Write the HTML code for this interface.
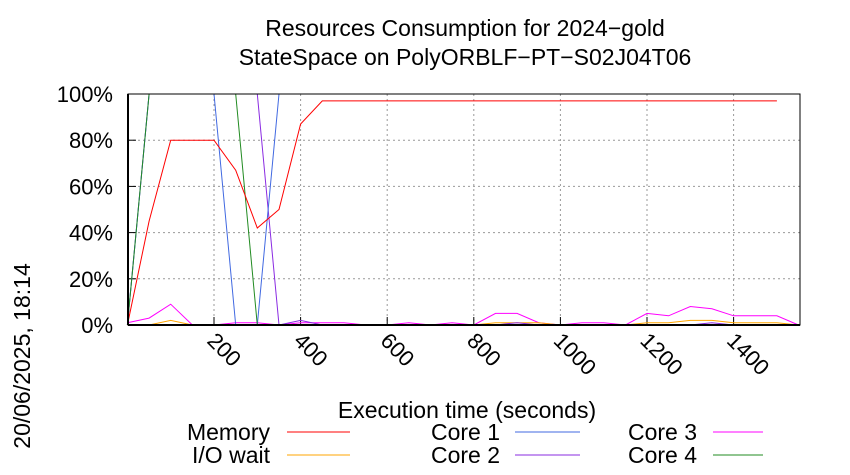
<!DOCTYPE html>
<html><head><meta charset="utf-8"><style>body{margin:0;background:#fff}svg{display:block;font-family:"Liberation Sans",sans-serif}</style></head>
<body>
<svg id="c" width="850" height="475" xmlns="http://www.w3.org/2000/svg">
<text x="465" y="36" font-size="23" text-anchor="middle">Resources Consumption for 2024−gold</text>
<text x="465" y="65" font-size="23" text-anchor="middle">StateSpace on PolyORBLF−PT−S02J04T06</text>
<text transform="translate(30,356) rotate(-90)" font-size="23" text-anchor="middle">20/06/2025, 18:14</text>
<text x="467" y="418" font-size="23" text-anchor="middle">Execution time (seconds)</text>
<g id="grid"></g><g id="series"></g>
<rect x="128" y="94" width="672" height="231" fill="none" stroke="#000" stroke-width="1"/>
<line x1="128" y1="94" x2="128" y2="325" stroke="#000" stroke-width="2"/>
<line x1="128" y1="325" x2="800" y2="325" stroke="#000" stroke-width="2"/>
<g id="legend" font-size="23"></g>
</svg>
<script>
const times=[0,50,100,150,200,250,300,350,400,450,500,550,600,650,700,750,800,850,900,950,1000,1050,1100,1150,1200,1250,1300,1350,1400,1450,1500,1550];
const memory=[0,45,80,80,80,67,42,50,87,97,97,97,97,97,97,97,97,97,97,97,97,97,97,97,97,97,97,97,97,97,97,null];
const ioWait=[0,0,2,0,0,0,0,0,0,0,0,0,0,0,0,0,0,1,1,1,0,0,0,0,1,1,2,2,1,1,1,0];
const core1=[0,100,100,100,100,0,0,100,100,100,100,100,100,100,100,100,100,100,100,100,100,100,100,100,100,100,100,100,100,100,100,100];
const core2=[0,100,100,100,100,100,100,0,2,0,0,0,0,0,0,0,0,0,1,0,0,0,0,0,0,0,0,1,0,0,0,0];
const core3=[1,3,9,0,0,1,1,0,1,1,1,0,0,1,0,1,0,5,5,1,0,1,1,0,5,4,8,7,4,4,4,0];
const core4=[0,100,100,100,100,100,0,0,0,0,0,0,0,0,0,0,0,0,0,0,0,0,0,0,0,0,0,0,0,0,0,0];
const yTicks=[0,20,40,60,80,100];
const xTicks=[200,400,600,800,1000,1200,1400];
const NS="http://www.w3.org/2000/svg";
const X=t=>127.4+t*0.433, Y=v=>325-v*2.31;
function mk(tag,attrs,parent){const e=document.createElementNS(NS,tag);for(const k in attrs)e.setAttribute(k,attrs[k]);parent.appendChild(e);return e;}
const grid=document.getElementById('grid'),svg=document.getElementById('c');
yTicks.forEach(v=>{
 if(v>0&&v<100){const l=mk('line',{x1:128,x2:800,y1:Y(v),y2:Y(v),stroke:'#999','stroke-dasharray':'2,3'},grid);}
 mk('line',{x1:128,x2:136,y1:Y(v),y2:Y(v),stroke:'#000'},grid);
 const t=mk('text',{x:113,y:Y(v)+8,'font-size':22,'text-anchor':'end'},svg);t.textContent=v+'%';
 
 
});
xTicks.forEach(v=>{
 const l=mk('line',{x1:X(v),x2:X(v),y1:94,y2:325,stroke:'#999','stroke-dasharray':'2,3'},grid);
 
 
 mk('line',{x1:X(v),x2:X(v),y1:317,y2:325,stroke:'#000'},grid);
 const t=mk('text',{transform:`translate(${X(v)-8},${342}) rotate(45)`,'font-size':22},svg);t.textContent=v;
 
 
});
const series=[['Memory',memory,'#ff0000'],['I/O wait',ioWait,'#ffa500'],['Core 1',core1,'#4169e1'],['Core 2',core2,'#8a2be2'],['Core 3',core3,'#ff00ff'],['Core 4',core4,'#228b22']];
const sg=document.getElementById('series');
[4,1,3,2,5,0].forEach(i=>{const [n,d,c]=series[i];
 const pts=[];d.forEach((v,j)=>{if(v!==null)pts.push(X(times[j]).toFixed(1)+','+Y(v).toFixed(1));});
 const p=mk('polyline',{points:pts.join(' '),fill:'none',stroke:c,'stroke-width':1},sg);
 
 
});
const lg=document.getElementById('legend');
const pos=[[270,440,287,350],[270,463,287,350],[500,440,515,580],[500,463,515,580],[697,440,713,763],[697,463,713,763]];
series.forEach(([n,d,c],i)=>{const [tx,ty,l1,l2]=pos[i];
 const g=mk('g',{},lg);
 
 
 const t=mk('text',{x:tx,y:ty,'text-anchor':'end'},g);t.textContent=n;
 mk('line',{x1:l1,x2:l2,y1:ty-8,y2:ty-8,stroke:c},g);
});
</script>
</body></html>
